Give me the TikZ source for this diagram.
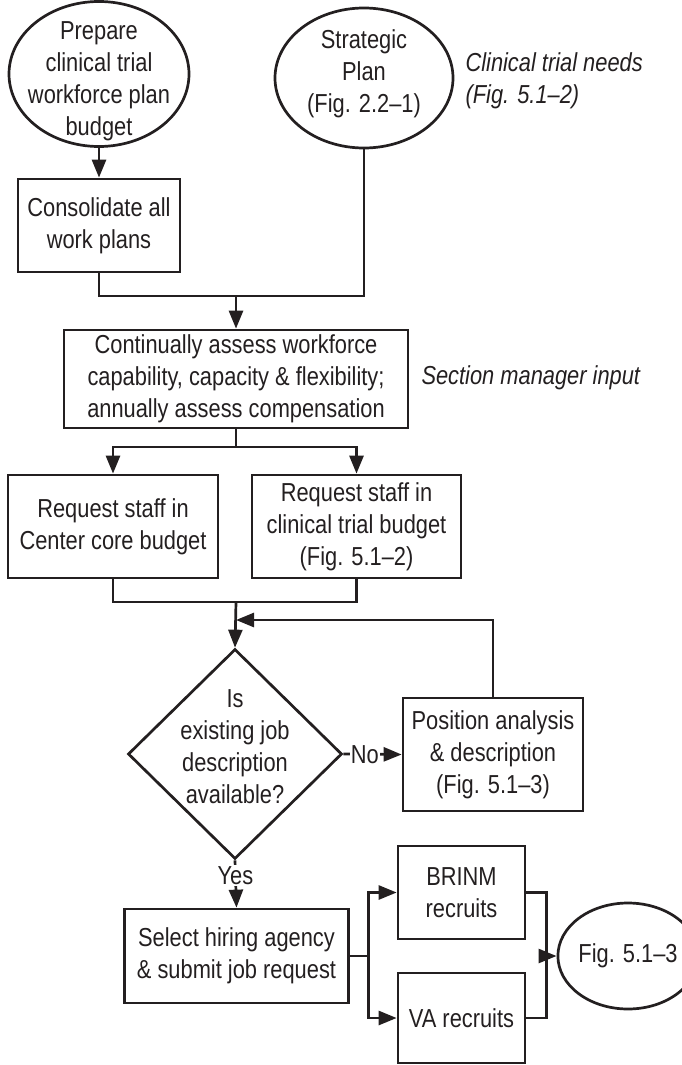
\documentclass[tikz,border=0pt]{standalone}
\usepackage{fontspec}
\setmainfont{Liberation Sans}[FakeStretch=0.84]
\usetikzlibrary{arrows.meta,shapes.geometric}
\definecolor{ink}{HTML}{231F20}
\tikzset{
  every node/.style={text=ink, font=\fontsize{26}{32}\selectfont},
  box/.style={draw=ink, line width=2.7pt, rectangle, inner sep=0pt, align=center},
  oval/.style={draw=ink, line width=2.7pt, ellipse, inner sep=0pt},
  decision/.style={draw=ink, line width=2.7pt, diamond, inner sep=0pt},
  label text/.style={align=center, inner sep=0pt},
  flow/.style={draw=ink, line width=2.7pt},
  arr/.style={flow, -{Triangle[length=18pt,width=14pt]}},
  tag/.style={fill=white, inner sep=1pt},
  note/.style={font=\fontsize{26}{32}\selectfont\itshape, align=left, anchor=west},
}
\begin{document}
\begin{tikzpicture}[x=1pt, y=-1pt]
\useasboundingbox (0,0) rectangle (682,1065);

% top row: starting points
\node[oval, minimum width=180, minimum height=145] (prep) at (99,74) {};
\node[label text] (preptxt) at (99,81) {Prepare\\clinical trial\\workforce plan\\budget};
\node[oval, minimum width=178, minimum height=140] (strat) at (364,78) {};
\node[label text] (strattxt) at (364,74) {Strategic\\Plan\\(Fig. 2.2–1)};
\node[note] (needs) at (462,81) {Clinical trial needs\\(Fig. 5.1–2)};

\node[box, minimum width=162, minimum height=93] (cons) at (99,225.5) {Consolidate all\\work plans};

% assessment
\node[box, minimum width=344, minimum height=98] (assess) at (236,379)
  {Continually assess workforce\\capability, capacity \& flexibility;\\annually assess compensation};
\node[note] (mgr) at (418,378) {Section manager input};

% staff requests
\node[box, minimum width=210, minimum height=103] (reqA) at (113,526.5) {Request staff in\\Center core budget};
\node[box, minimum width=209, minimum height=103] (reqB) at (356.5,526.5) {Request staff in\\clinical trial budget\\(Fig. 5.1–2)};

% job description decision
\node[decision, minimum width=214, minimum height=210] (dia) at (235,754) {};
\node[label text] (diatxt) at (235,747) {Is\\existing job\\description\\available?};
\node[box, minimum width=180, minimum height=113] (pos) at (493,754.5) {Position analysis\\\& description\\(Fig. 5.1–3)};

% hiring
\node[box, minimum width=224, minimum height=94] (sel) at (236.5,956) {Select hiring agency\\\& submit job request};
\node[box, minimum width=127, minimum height=93] (brinm) at (461.5,892.5) {BRINM\\recruits};
\node[box, minimum width=127, minimum height=90] (va) at (461.5,1018) {VA recruits};
\node[oval, minimum width=106, minimum height=106] (fig) at (628,956) {Fig. 5.1–3};

% junction points
\coordinate (m1) at (236,296);
\coordinate (m2) at (236,447);
\coordinate (m3) at (236,602);
\coordinate (m4) at (236,620);
\coordinate (m5) at (368.6,956);
\coordinate (m6) at (546.6,956);

% connectors
\draw[arr] (prep) -- (cons);
\draw[flow] (cons.south) |- (m1) -| (strat.south);
\draw[arr] (m1) -- (assess.north);
\draw[flow] (assess.south) -- (m2);
\draw[arr] (m2) -| (reqA.north);
\draw[arr] (m2) -| (reqB.north);
\draw[flow] (reqA.south) |- (m3) -| (reqB.south);
\draw[arr] (m3) -- (dia.north);
\draw[arr] (dia.east) -- node[tag, pos=0.37] {No} (pos.west);
\draw[arr] (pos.north) |- (m4);
\draw[arr] (dia.south) -- node[tag, pos=0.32] {Yes} (sel.north);
\draw[flow] (sel.east) -- (m5);
\draw[arr] (m5) |- (brinm.west);
\draw[arr] (m5) |- (va.west);
\draw[flow] (brinm.east) -| (m6);
\draw[flow] (va.east) -| (m6);
\draw[arr] (m6) -- (fig.west);
\end{tikzpicture}
\end{document}
